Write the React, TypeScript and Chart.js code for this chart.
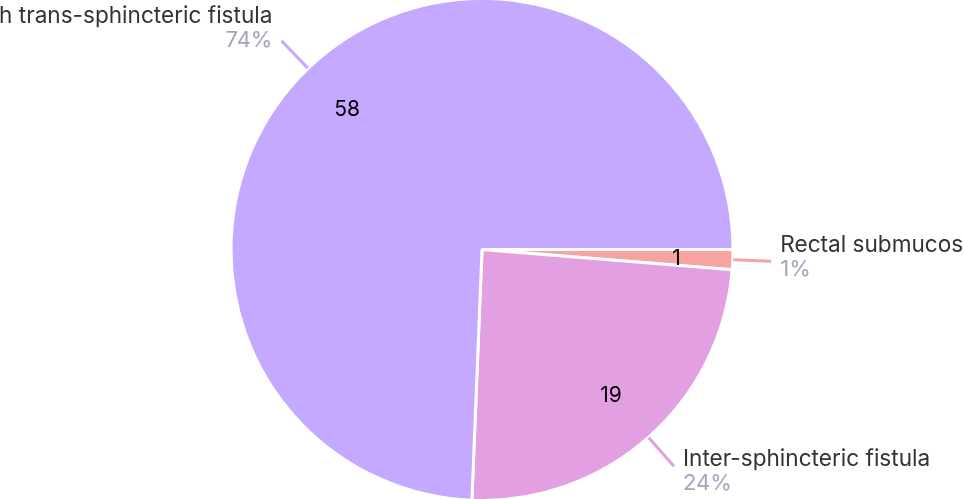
import React, { useEffect, useRef } from "react";
import { Chart, registerables } from "chart.js";

Chart.register(...registerables);

const categories = ["Rectal submucosal fistula", "Inter-sphincteric fistula", "High trans-sphincteric fistula"];
const values = [1, 19, 58];
const colors = ["#F7A4A0", "#E2A0E2", "#C5A8FF"];

const FONT = "Inter, 'Noto Sans', sans-serif";

const labelPlugin = {
  id: "pieLabels",
  afterDatasetsDraw(chart: any) {
    const ctx = chart.ctx;
    const meta = chart.getDatasetMeta(0);
    const total = values.reduce((a, b) => a + b, 0);
    meta.data.forEach((arc: any, i: number) => {
      const { x, y, startAngle, endAngle, outerRadius } = arc.getProps(
        ["x", "y", "startAngle", "endAngle", "outerRadius"],
        true
      );
      const R = outerRadius - 1.5;
      const mid = (startAngle + endAngle) / 2;
      const c = Math.cos(mid);
      const s = Math.sin(mid);
      // inner value
      ctx.save();
      ctx.fillStyle = "#000";
      ctx.font = `21px ${FONT}`;
      ctx.textAlign = "center";
      ctx.textBaseline = "middle";
      const ir = R * 0.78;
      ctx.fillText(String(values[i]), x + c * ir, y + s * ir + 1);
      // leader line
      const r1 = R + 2;
      const r2 = R + 40;
      const x1 = x + c * r1, y1 = y + s * r1;
      const x2 = x + c * r2, y2 = y + s * r2;
      ctx.strokeStyle = colors[i];
      ctx.lineWidth = 3;
      ctx.beginPath();
      ctx.moveTo(x1, y1);
      ctx.lineTo(x2, y2);
      ctx.stroke();
      // text
      const right = c >= 0;
      const tx = right ? x2 + 9 : x2 - 9;
      const blockCenter = y2 - 4 + 12 * s;
      ctx.textAlign = right ? "left" : "right";
      ctx.textBaseline = "middle";
      ctx.font = `22.6px ${FONT}`;
      ctx.fillStyle = "#333333";
      ctx.fillText(categories[i], tx, blockCenter - 12);
      ctx.fillStyle = "#A3A3BF";
      ctx.font = `22px ${FONT}`;
      const pct = Math.round((values[i] / total) * 100) + "%";
      ctx.fillText(pct, tx, blockCenter + 12);
      ctx.restore();
    });
  },
};

export default function App() {
  const ref = useRef<HTMLCanvasElement>(null);
  useEffect(() => {
    if (!ref.current) return;
    const chart = new Chart(ref.current, {
      type: "pie",
      data: {
        labels: categories,
        datasets: [
          {
            data: values,
            backgroundColor: colors,
            borderColor: "#ffffff",
            borderWidth: 3,
            hoverOffset: 0,
          },
        ],
      },
      options: {
        animation: false,
        responsive: false,
        rotation: 90,
        radius: 251,
        plugins: {
          legend: { display: false },
          tooltip: { enabled: false },
        },
      },
      plugins: [labelPlugin],
    });
    return () => chart.destroy();
  }, []);
  return (
    <div style={{ position: "fixed", left: 0, top: 0, width: 964, height: 499, background: "#fff" }}>
      <canvas ref={ref} width={964} height={499} style={{ width: 964, height: 499, display: "block" }} />
    </div>
  );
}
